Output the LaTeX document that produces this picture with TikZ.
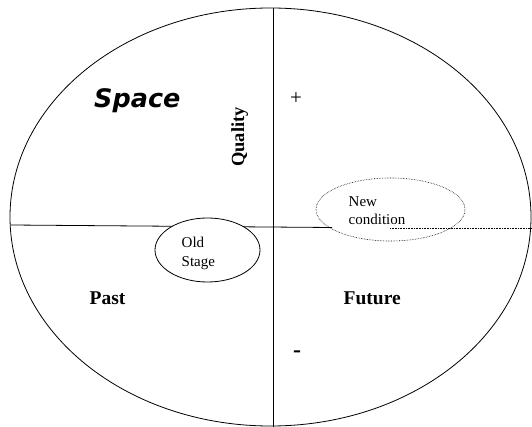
\documentclass[tikz,border=0pt]{standalone}
\usepackage{fontspec}
\setmainfont{Liberation Serif}
\newfontfamily\spacefont{DejaVu Sans}
\usetikzlibrary{shapes.geometric}
\tikzset{
  lbl/.style={inner sep=0pt, anchor=base west},
  smalltxt/.style={lbl, font=\fontsize{15}{18}\selectfont},
  bigtxt/.style={lbl, font=\fontsize{19.5}{23}\selectfont\bfseries},
  solidline/.style={line width=0.8pt},
  dotline/.style={line width=0.6pt, densely dotted},
}
\begin{document}
\begin{tikzpicture}[x=1pt,y=-1pt]
\useasboundingbox (0,0) rectangle (532,427);
% outer ellipse
\node[draw, solidline, ellipse, minimum width=521pt, minimum height=418pt, inner sep=0pt] (outer) at (270.5,217) {};
% axes
\coordinate (vtop) at (273.5,8);
\coordinate (vbot) at (273.5,427);
\coordinate (hleft) at (11,225);
\coordinate (hright) at (332,227.5);
\draw[solidline] (vtop) -- (vbot);
\draw[solidline] (hleft) -- (hright);
% old stage
\node[draw, solidline, fill=white, ellipse, minimum width=105pt, minimum height=64pt, inner sep=0pt] (oldstage) at (207.5,250) {};
% new condition
\node[draw, dotline, ellipse, minimum width=149pt, minimum height=63pt, inner sep=0pt] (newcond) at (390.5,209.5) {};
\coordinate (dstart) at (390,228);
\coordinate (dend) at (532,228);
\draw[dotline] (dstart) -- (dend);
% texts
\node[lbl, font=\spacefont\fontsize{25.5}{30}\selectfont\bfseries\itshape] (space) at (94,108) {Space};
\node[inner sep=0pt, anchor=base west, rotate=90, font=\fontsize{18.5}{22}\selectfont\bfseries] (quality) at (244,167) {Quality};
\node[inner sep=0pt, font=\fontsize{21}{24}\selectfont] (plus) at (296,99) {+};
\node[inner sep=0pt, font=\fontsize{24}{28}\selectfont\bfseries] (minus) at (297,354) {-};
\node[bigtxt] (past) at (89.5,305) {Past};
\node[bigtxt] (future) at (343.5,305) {Future};
\node[smalltxt] (old1) at (181.5,248) {Old};
\node[smalltxt] (old2) at (181.5,266.5) {Stage};
\node[smalltxt] (new1) at (348.5,207) {New};
\node[smalltxt] (new2) at (348.5,225) {condition};
\end{tikzpicture}
\end{document}
